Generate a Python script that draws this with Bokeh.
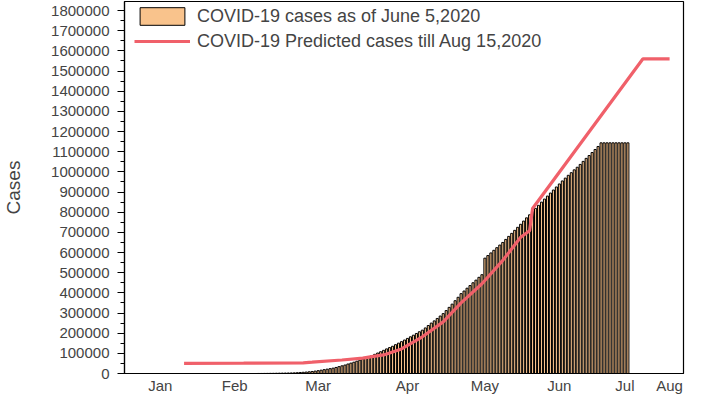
from bokeh.plotting import figure
from bokeh.models import (Range1d, FixedTicker, SingleIntervalTicker, BasicTickFormatter,
                          Legend, LegendItem)
from bokeh.embed import file_html
from bokeh.resources import INLINE

# ---- data ----
month_labels = ["Jan", "Feb", "Mar", "Apr", "May", "Jun", "Jul", "Aug"]
month_pos = [12, 37, 65, 95, 121, 146, 168, 183]

cases = [
    0, 0, 0, 0, 0, 0, 0, 0, 0, 0, 0, 0, 0, 0, 0, 0, 0, 0, 0, 0, 0, 0, 0, 0,
    200, 300, 400, 600, 800,
    1000, 1300, 1600, 1900, 2200, 2500, 2800, 3200,
    4000, 5000, 6000, 7200, 8500, 10000,
    12000, 14000, 16500, 19000, 21500, 24000, 26500,
    30000, 34000, 38000, 42000, 47000, 51500, 56000,
    61000, 66000, 71500, 77000, 82500, 88000,
    95000, 101500, 108000, 115000,
    122000, 128500, 135000, 143000, 150500, 158000,
    166000, 174000, 182000, 190000, 198500, 207000, 215000,
    226000, 238000, 250000, 261000, 273000, 285000, 297000,
    312000, 328000, 344000, 361000, 378000, 396000,
    409000, 423000, 436000, 450000, 463000, 477000, 490000,
    572000, 585000, 598000, 611000, 624000, 637000, 650000,
    665000, 680000, 695000, 710000, 725000, 740000,
    756000, 772000, 787000, 803000, 819000, 834000, 850000,
    865000, 880000, 895000, 910000, 925000, 940000, 955000,
    969000, 983000, 996000, 1010000, 1023000, 1037000,
    1052000, 1067000, 1081000, 1096000, 1111000, 1126000, 1144000,
    1144000, 1144000, 1144000, 1144000, 1144000, 1144000, 1144000, 1144000, 1144000,
]
first_day = 21
bar_days = list(range(first_day, first_day + len(cases)))

pred_days = [20, 40, 60, 63, 73, 80, 83, 87, 93, 100, 107, 113, 120, 127, 133, 136, 137, 174, 183]
pred_cases = [50000, 51000, 53000, 56000, 67000, 76000, 84000, 92000, 122000, 182000,
              256000, 350000, 445000, 561000, 676000, 708000, 818000, 1560000, 1560000]

FONT = "Liberation Sans"
BAR_FILL = "#F9C38C"
LINE_COL = "#F0606A"

p = figure(width=685, height=396, output_backend="svg", toolbar_location=None,
           x_range=Range1d(0, 187.67), y_range=Range1d(0, 1845000),
           min_border_left=120, min_border_right=2, min_border_top=1, min_border_bottom=21,
           title=None)

p.xgrid.visible = False
p.ygrid.visible = False
p.outline_line_color = "black"
p.outline_line_width = 1.2
p.background_fill_color = "white"
p.border_fill_color = "white"

bars = p.vbar(x=bar_days, top=cases, width=0.7, fill_color=BAR_FILL,
              line_color="black", line_width=1.0)
line = p.line(pred_days, pred_cases, line_color=LINE_COL, line_width=3.2)

# y axis
ya = p.yaxis[0]
ya.ticker = SingleIntervalTicker(interval=100000, num_minor_ticks=2)
ya.formatter = BasicTickFormatter(use_scientific=False)
ya.axis_label = "Cases"
ya.axis_label_text_font = FONT
ya.axis_label_text_font_size = "19px"
ya.axis_label_text_font_style = "normal"
ya.axis_label_standoff = 24
ya.major_label_text_font = FONT
ya.major_label_text_font_size = "15px"
ya.major_label_standoff = 8
ya.major_tick_out = 7
ya.major_tick_in = 0
ya.minor_tick_out = 4
ya.minor_tick_in = 0
ya.axis_line_color = "black"
ya.axis_line_width = 1.2
ya.major_tick_line_color = "black"
ya.minor_tick_line_color = "black"

# x axis
xa = p.xaxis[0]
xa.ticker = FixedTicker(ticks=month_pos)
xa.major_label_overrides = {pos: lab for pos, lab in zip(month_pos, month_labels)}
xa.major_label_text_font = FONT
xa.major_label_text_font_size = "15px"
xa.major_label_standoff = 3
xa.major_tick_out = 0
xa.major_tick_in = 0
xa.minor_tick_out = 0
xa.minor_tick_in = 0
xa.axis_line_color = "black"
xa.axis_line_width = 1.2

legend = Legend(items=[
    LegendItem(label="COVID-19 cases as of June 5,2020", renderers=[bars]),
    LegendItem(label="COVID-19 Predicted cases till Aug 15,2020", renderers=[line]),
], location=(10, 321), border_line_color=None, background_fill_alpha=0,
    glyph_width=56, glyph_height=22, label_standoff=7, spacing=3, padding=0, margin=0,
    label_text_font=FONT, label_text_font_size="18px")
p.add_layout(legend)

open("out.html", "w").write(file_html(p, INLINE))
